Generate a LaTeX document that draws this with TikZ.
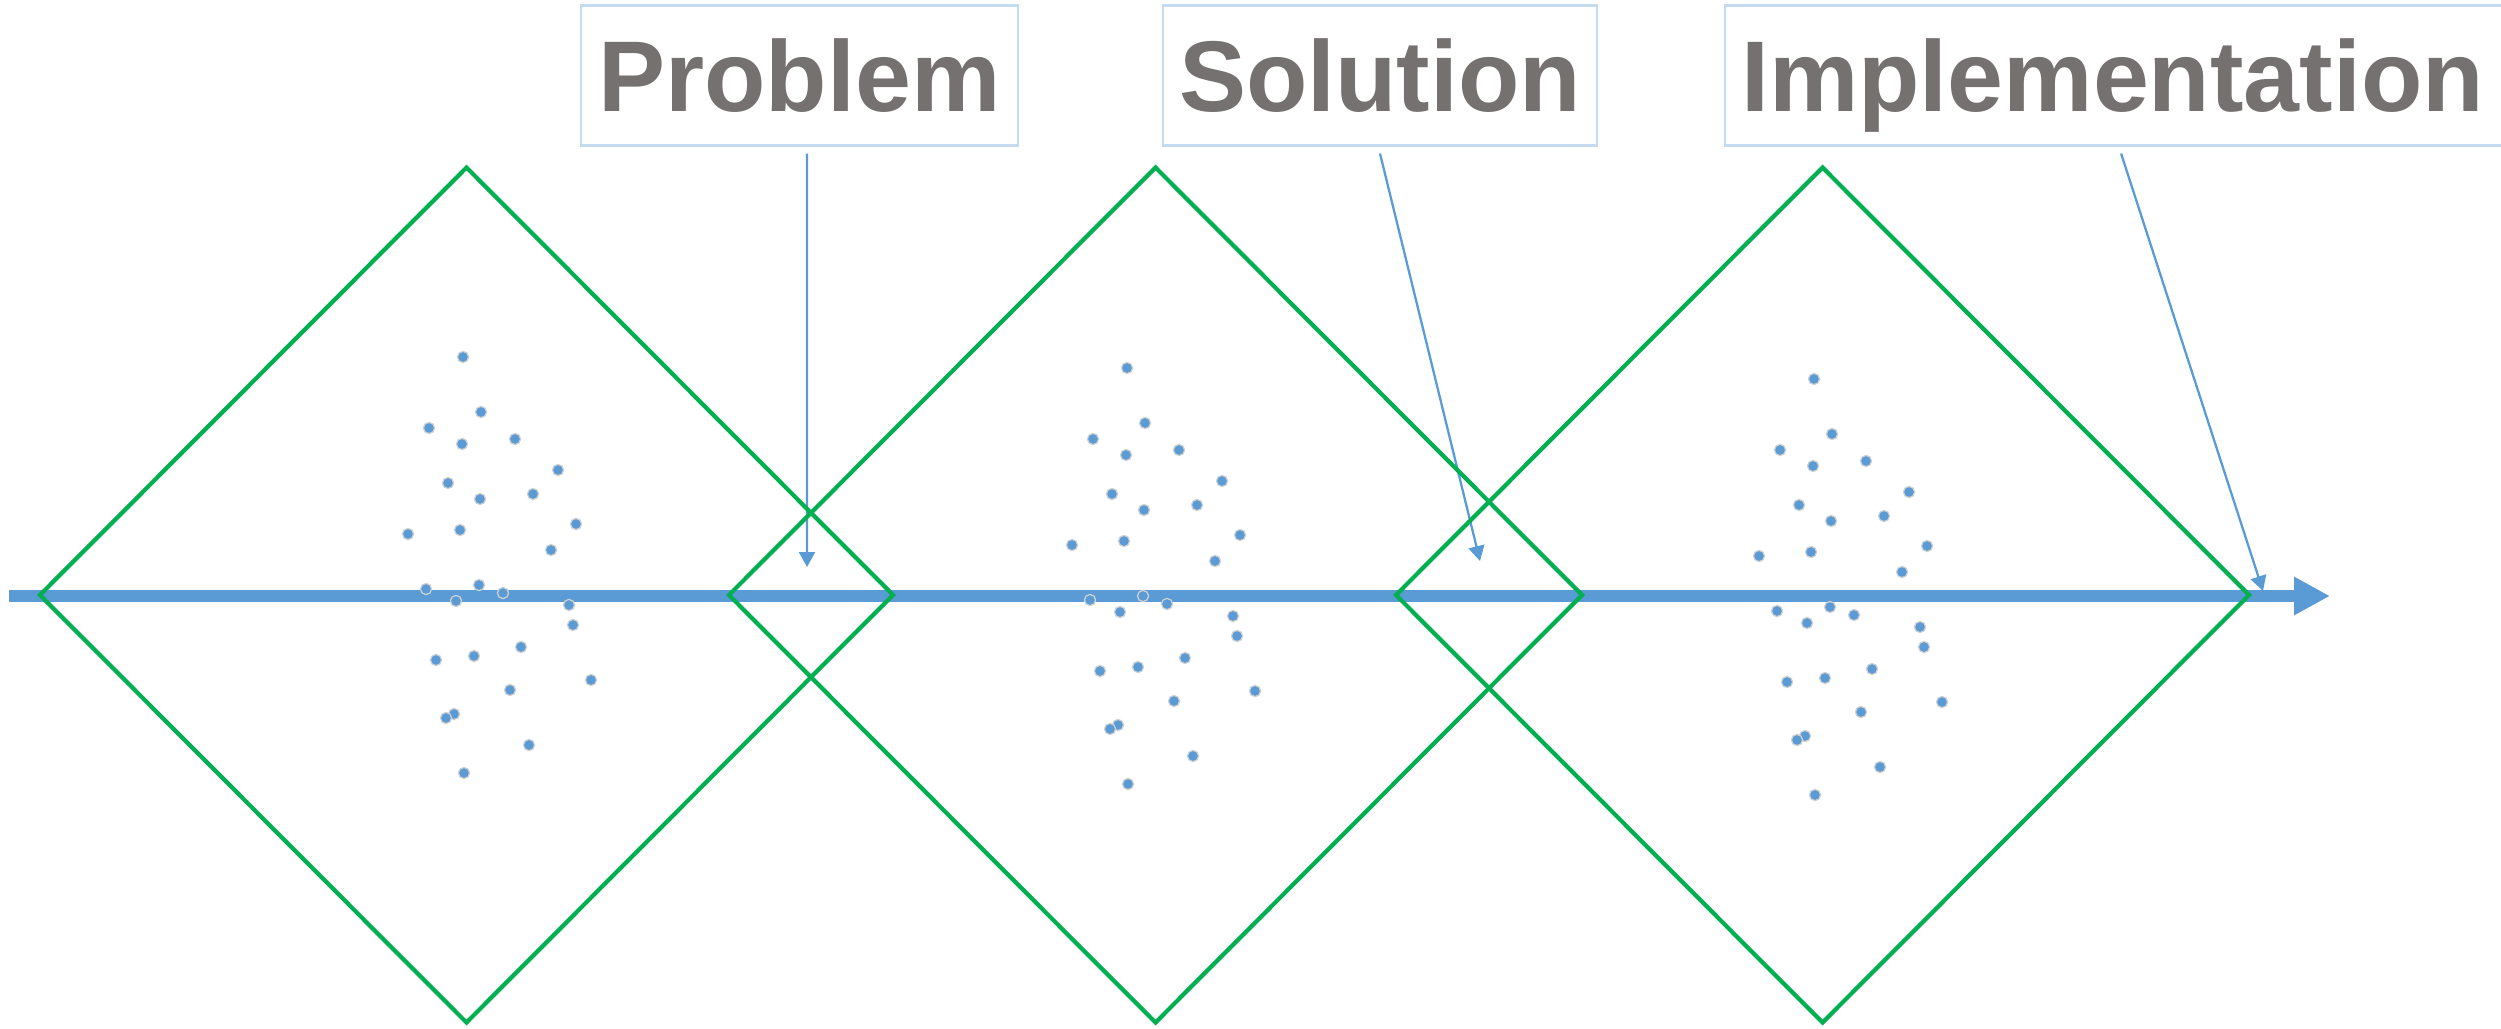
\documentclass[tikz,border=0pt]{standalone}
\usepackage{fontspec}
\setmainfont{Liberation Sans}
\usepackage{xcolor}
\usepackage{tikz}
\usetikzlibrary{arrows.meta}

\definecolor{axisblue}{RGB}{91,155,213}
\definecolor{framegreen}{RGB}{0,176,80}
\definecolor{tagline}{RGB}{197,220,240}
\definecolor{taggray}{RGB}{118,113,113}

\begin{document}
\begin{tikzpicture}[
    tag/.style={draw=tagline, line width=0.6pt, fill=white, text=taggray,
        font=\fontsize{28.6pt}{30pt}\selectfont\bfseries,
        text height=0.72cm, text depth=0pt, minimum height=1.4cm, inner xsep=0pt},
    pointer/.style={axisblue, line width=0.65pt, -{Triangle[length=0.15cm, width=0.16cm]}},
    frame/.style={framegreen, line width=1.2pt, line join=miter},
    dot/.style={fill=axisblue, draw=black!18, line width=0.35pt},
]
\useasboundingbox (0,0) rectangle (25.01,-10.28);

% time line
\coordinate (axis start) at (0.09,-5.96);
\coordinate (axis end) at (23.30,-5.96);
\draw[axisblue, line width=0.12cm, -{Triangle[length=0.36cm, width=0.36cm]}] (axis start) -- (axis end);

% labels
\node[tag, minimum width=4.37cm] (problem) at (7.995,-0.755) {Problem};
\node[tag, minimum width=4.34cm] (solution) at (13.80,-0.755) {Solution};
\node[tag, anchor=west, text width=7.6cm, align=left, inner xsep=0.16cm] (implementation) at (17.24,-0.755) {Implementation};

% pointers
\coordinate (problem tip) at (8.07,-5.67);
\coordinate (solution tip) at (14.80,-5.61);
\coordinate (implementation tip) at (22.63,-5.91);
\draw[pointer] ([xshift=0.075cm, yshift=-0.07cm]problem.south) -- (problem tip);
\draw[pointer] ([yshift=-0.07cm]solution.south) -- (solution tip);
\draw[pointer] ([yshift=-0.07cm]implementation.south) -- (implementation tip);

% diamonds
\foreach \cx in {4.665,11.555,18.225} {
    \draw[frame] (\cx-4.265,-5.95) -- (\cx,-1.675) -- (\cx+4.265,-5.95) -- (\cx,-10.225) -- cycle;
}

% scattered points, same pattern in each diamond
\foreach \sx/\sy in {0/0, 6.64/-0.11, 13.51/-0.22} {
    \begin{scope}[shift={(\sx,\sy)}]
    \foreach \x/\y in {4.63/-3.57, 4.81/-4.12, 4.29/-4.28, 4.62/-4.44, 5.15/-4.39,
                       5.58/-4.70, 4.48/-4.83, 4.80/-4.99, 5.33/-4.94, 5.76/-5.24,
                       4.08/-5.34, 4.60/-5.30, 5.51/-5.50, 4.26/-5.89, 4.79/-5.85,
                       5.03/-5.93, 4.56/-6.01, 5.69/-6.05, 5.73/-6.25, 5.21/-6.47,
                       4.36/-6.60, 4.74/-6.56, 5.91/-6.80, 5.10/-6.90, 4.54/-7.14,
                       4.46/-7.18, 5.29/-7.45, 4.64/-7.73} {
        \filldraw[dot] (\x,\y) circle (0.056);
    }
    \end{scope}
}
\end{tikzpicture}
\end{document}
